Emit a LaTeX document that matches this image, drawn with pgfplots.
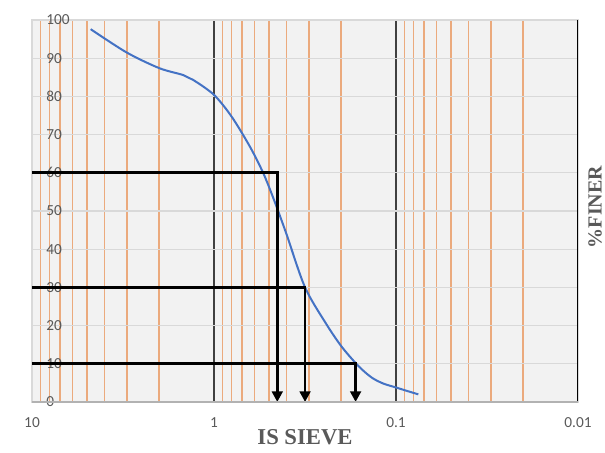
\documentclass[border=0pt]{standalone}
\usepackage{fontspec}
\setmainfont{Liberation Serif}
\newfontfamily\carlito{Carlito}
\usepackage{pgfplots}
\pgfplotsset{compat=1.18}
\usetikzlibrary{arrows.meta}
\definecolor{gridorange}{RGB}{235,170,125}
\definecolor{curveblue}{RGB}{68,114,196}
\definecolor{labelgray}{RGB}{89,89,89}
\definecolor{hgrid}{RGB}{217,217,217}
\definecolor{plotbg}{RGB}{242,242,242}

\begin{document}
\begin{tikzpicture}
\useasboundingbox (-24pt,-37.5pt) rectangle (429.75pt,301.5pt);
\begin{axis}[
  at={(0,0)}, anchor=south west,
  scale only axis,
  width=409.5pt, height=286.5pt,
  xmode=log, x dir=reverse,
  xmin=0.01, xmax=10, ymin=0, ymax=100,
  xtick={0.1,1}, xticklabels={0.1,1},
  extra x ticks={0.01,10}, extra x tick labels={0.01,10},
  extra x tick style={grid=none},
  minor xtick={0.02,0.03,0.04,0.05,0.06,0.07,0.08,0.09,
               0.2,0.3,0.4,0.5,0.6,0.7,0.8,0.9,
               2,3,4,5,6,7,8,9},
  ytick={0,10,...,100},
  xmajorgrids, xminorgrids, ymajorgrids,
  major x grid style={color=black!75, line width=0.8pt},
  minor x grid style={color=gridorange, line width=1.1pt},
  major y grid style={color=hgrid, line width=1pt},
  tick style={draw=none},
  axis line style={draw=hgrid, line width=1pt},
  axis background/.style={fill=plotbg},
  /pgf/number format/assume math mode=true,
  ticklabel style={font=\carlito\fontsize{11.5}{13}\selectfont, text=labelgray},
  xticklabel style={anchor=center, yshift=-15.75pt},
  yticklabel style={anchor=west, inner sep=0pt, xshift=10.5pt},
  xlabel={IS SIEVE},
  xlabel style={at={(axis description cs:0.5,0)}, anchor=center, yshift=-26.25pt,
                font=\bfseries\fontsize{17}{19}\selectfont, text=labelgray},
  ylabel={\%FINER},
  ylabel style={at={(axis description cs:1,0.5)}, anchor=center,
                xshift=3pt, yshift=-12.75pt,
                font=\bfseries\fontsize{15}{17}\selectfont, text=labelgray},
]
\addplot[smooth, color=curveblue, line width=1.5pt] coordinates {
  (4.76,97.6)(3.02,91.5)(2.0,87.4)(1.48,85.6)(1.30,84.3)(1.0,80.4)
  (0.80,74.7)(0.634,66.8)(0.536,59.9)(0.468,52.9)(0.40,44.0)(0.316,30.0)
  (0.24,20.2)(0.199,14.5)(0.166,10.1)(0.148,7.8)(0.133,6.1)(0.117,4.8)
  (0.1,3.8)(0.087,2.9)(0.0754,2.0)};
\addplot[black, line width=2pt, -{Triangle[width=8pt,length=8pt]}] coordinates {
  (10,60)(0.449,60)(0.449,0)};
\addplot[black, line width=2pt, -{Triangle[width=8pt,length=8pt]}] coordinates {
  (10,30)(0.316,30)(0.316,0)};
\addplot[black, line width=2pt, -{Triangle[width=8pt,length=8pt]}] coordinates {
  (10,10)(0.1667,10)(0.1667,0)};
\draw[black, line width=1pt] (rel axis cs:1,0) -- (rel axis cs:1,1);
\draw[gray!60, line width=1pt] (rel axis cs:0,0) -- (rel axis cs:1,0);
\end{axis}
\end{tikzpicture}
\end{document}
